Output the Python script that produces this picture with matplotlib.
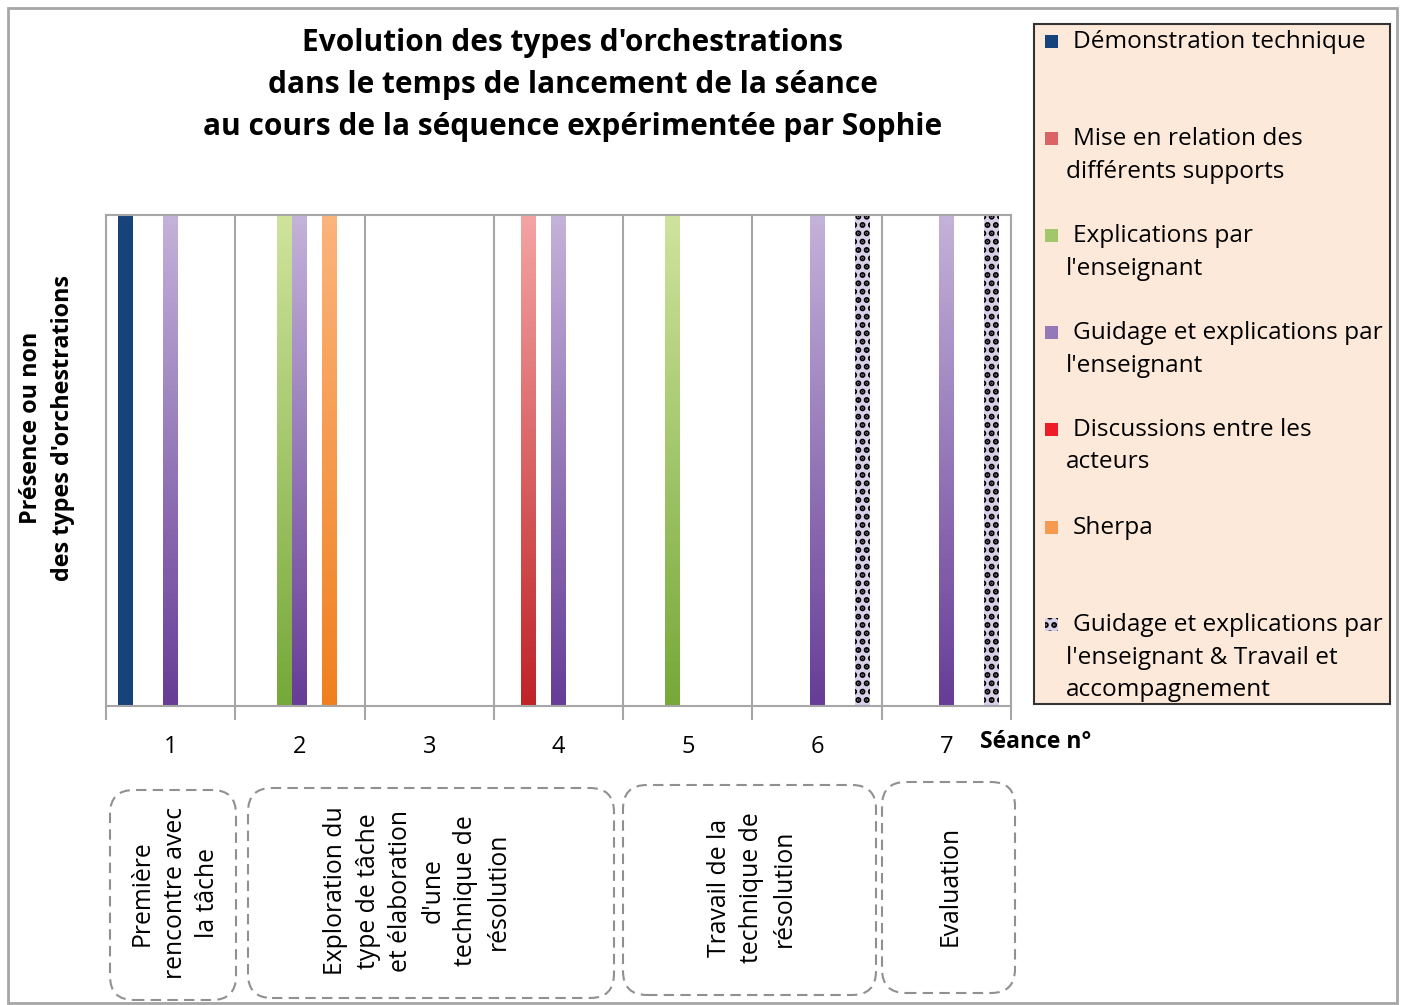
import numpy as np
import matplotlib
matplotlib.use("Agg")
import matplotlib.pyplot as plt
from matplotlib.patches import Rectangle, FancyBboxPatch
from matplotlib.colors import LinearSegmentedColormap, to_rgb

plt.rcParams['font.family'] = ['Open Sans', 'DejaVu Sans']
plt.rcParams['hatch.linewidth'] = 3.0

W, H = 1403, 1005

sessions = ['1', '2', '3', '4', '5', '6', '7']

series_labels = [
    "Démonstration technique",
    "Mise en relation des\ndifférents supports",
    "Explications par\nl'enseignant",
    "Guidage et explications par\nl'enseignant",
    "Discussions entre les\nacteurs",
    "Sherpa",
    "Guidage et explications par\nl'enseignant & Travail et\naccompagnement",
]

# présence (1) ou absence (0) de chaque type, séance 1 à 7
presence = [
    [1, 0, 0, 0, 0, 0, 0],
    [0, 0, 0, 1, 0, 0, 0],
    [0, 1, 0, 0, 1, 0, 0],
    [1, 1, 0, 1, 0, 1, 1],
    [0, 0, 0, 0, 0, 0, 0],
    [0, 1, 0, 0, 0, 0, 0],
    [0, 0, 0, 0, 0, 1, 1],
]

# couleur haut / bas du dégradé
top_colors = ['#17427a', '#f4a3a3', '#cfe39c', '#c3b2d9', '#ee1c24', '#fbb47c', '#d8cfe8']
bottom_colors = ['#17427a', '#bf2427', '#76a83a', '#673d97', '#ee1c24', '#f0801f', '#d8cfe8']

phases = [
    "Première\nrencontre avec\nla tâche",
    "Exploration du\ntype de tâche\net élaboration\nd'une\ntechnique de\nrésolution",
    "Travail de la\ntechnique de\nrésolution",
    "Evaluation",
]
# boites en pixels (x0, y0, x1, y1) et centre du texte
phase_boxes = [(110, 790, 236, 1000), (248, 788, 614, 998),
               (623, 785, 876, 995), (882, 782, 1015, 993)]
phase_text_x = [175, 417, 752, 950]


def fx(x):
    return x / W


def fy(y):
    return 1 - y / H


fig = plt.figure(figsize=(W / 100, H / 100), dpi=100)
fig.patches.append(Rectangle((fx(8), fy(1003)), fx(1389), 995 / H, transform=fig.transFigure,
                             fill=False, edgecolor='#a6a6a6', linewidth=2))

ax = fig.add_axes([fx(106), fy(706), fx(905), 491 / H])

n = len(series_labels)
bw = 0.116
x = np.arange(len(sessions))
grey = '#a6a6a6'

for i in range(n):
    offs = (i - (n - 1) / 2) * bw
    vals = presence[i]
    if i == 6:
        bars = ax.bar(x + offs, vals, bw, facecolor=top_colors[i], edgecolor='black',
                      linewidth=0, hatch='..', zorder=2)
        continue
    bars = ax.bar(x + offs, vals, bw, color=top_colors[i], linewidth=0, zorder=2)
    cmap = LinearSegmentedColormap.from_list('g%d' % i, [bottom_colors[i], top_colors[i]])
    grad = np.linspace(0, 1, 100).reshape(-1, 1)
    for b in bars:
        if b.get_height() == 0:
            continue
        im = ax.imshow(grad, extent=[b.get_x(), b.get_x() + b.get_width(), 0, b.get_height()],
                       origin='lower', aspect='auto', cmap=cmap, zorder=2.5)
        im.set_clip_path(b)

ax.set_xlim(-0.5, len(sessions) - 0.5)
ax.set_ylim(0, 1)
ax.set_xticks(x)
ax.set_xticklabels(sessions, fontsize=17)
ax.tick_params(axis='x', which='major', length=0, pad=21)
ax.set_xticks(np.arange(-0.5, len(sessions)), minor=True)
ax.tick_params(axis='x', which='minor', length=10, color=grey, width=1.5)
ax.set_yticks([])
ax.grid(axis='x', which='minor', color=grey, linewidth=1.5, zorder=0)
for s in ax.spines.values():
    s.set_color(grey)
    s.set_linewidth(1.5)

fig.text(fx(980), fy(742), "Séance n°", fontsize=16.5, fontweight='bold', va='center', ha='left')

fig.text(fx(573), fy(85), "Evolution des types d'orchestrations\ndans le temps de lancement de la séance\n"
         "au cours de la séquence expérimentée par Sophie",
         ha='center', va='center', fontsize=21.5, fontweight='bold', linespacing=1.5)

fig.text(fx(47), fy(428), "Présence ou non\ndes types d'orchestrations", rotation=90,
         ha='center', va='center', fontsize=16.8, fontweight='bold', linespacing=1.45)

# légende
fig.patches.append(Rectangle((fx(1034), fy(704)), fx(356), 680 / H, transform=fig.transFigure,
                             facecolor='#fde9d9', edgecolor='#333333', linewidth=1.5))
leg_y = [42, 139, 236, 333, 430, 528, 625]
for i, lab in enumerate(series_labels):
    yy = leg_y[i]
    mid = tuple((np.array(to_rgb(top_colors[i])) + np.array(to_rgb(bottom_colors[i]))) / 2)
    sq = Rectangle((fx(1045), fy(yy + 6)), fx(13), 13 / H, transform=fig.transFigure,
                   facecolor=mid, edgecolor='black' if i == 6 else 'none', linewidth=0,
                   hatch='..' if i == 6 else None)
    fig.patches.append(sq)
    lines = lab.split('\n')
    fig.text(fx(1073), fy(yy), lines[0], fontsize=17.6, va='center', ha='left')
    for k, ln in enumerate(lines[1:]):
        fig.text(fx(1066), fy(yy + 32.5 * (k + 1)), ln, fontsize=17.6, va='center', ha='left')

# phases
for lab, tx, (x0, y0, x1, y1) in zip(phases, phase_text_x, phase_boxes):
    p = 24
    box = FancyBboxPatch((fx(x0 + p), fy(y1 - p)), fx(x1 - x0 - 2 * p), (y1 - y0 - 2 * p) / H,
                         boxstyle='round,pad=%f' % (p / W), mutation_aspect=W / H,
                         transform=fig.transFigure,
                         fill=False, edgecolor='#909090', linewidth=1.5, linestyle=(0, (5, 3)))
    fig.patches.append(box)
    fig.text(fx(tx), fy((y0 + y1) / 2 - 2), lab, rotation=90, ha='center', va='center',
             multialignment='center', fontsize=17.8, linespacing=1.4)

fig.savefig('out.png', dpi=100)
